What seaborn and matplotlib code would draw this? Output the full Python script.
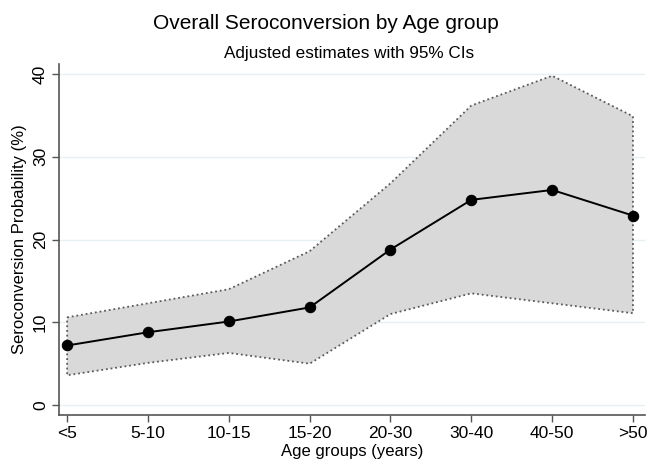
import matplotlib
matplotlib.use("Agg")
import matplotlib.pyplot as plt
import seaborn as sns
import numpy as np
import pandas as pd

# Data
age_groups = ["<5", "5-10", "10-15", "15-20", "20-30", "30-40", "40-50", ">50"]
estimate = [7.2, 8.8, 10.1, 11.8, 18.8, 24.8, 26.0, 22.9]
ci_upper = [10.6, 12.3, 14.0, 18.6, 26.8, 36.2, 39.8, 34.9]
ci_lower = [3.6, 5.1, 6.3, 5.0, 11.0, 13.5, 12.3, 11.1]

df = pd.DataFrame({"pos": np.arange(len(age_groups)), "est": estimate})

sns.set_theme(style="white")
plt.rcParams["font.family"] = ["Liberation Sans", "DejaVu Sans"]
plt.rcParams["text.color"] = "black"
plt.rcParams["axes.labelcolor"] = "black"

fig = plt.figure(figsize=(6.49, 4.61), dpi=100)
ax = fig.add_axes([0.091, 0.0998, 0.903, 0.761])

# grid lines
for v in [0, 10, 20, 30, 40]:
    ax.axhline(v, color="#e6eff1", lw=1.0, zorder=0)

# CI band with dotted outline
xs = df["pos"].to_numpy()
ax.fill(np.r_[xs, xs[::-1]], np.r_[ci_upper, ci_lower[::-1]],
        facecolor="#d9d9d9", edgecolor="#5a5a5a", linestyle=(0, (1, 1.6)),
        linewidth=1.3, zorder=1)

sns.lineplot(data=df, x="pos", y="est", ax=ax, color="black", lw=1.4,
             marker="o", markersize=7.5, markeredgecolor="black", zorder=3)

ax.set_xlim(-0.1, 7.15)
ax.set_ylim(-1.2, 41.2)
ax.set_xticks(xs)
ax.set_xticklabels(age_groups)
ax.set_yticks([0, 10, 20, 30, 40])
ax.set_yticklabels(["0", "10", "20", "30", "40"], rotation=90, va="center")
ax.tick_params(axis="both", direction="out", length=5, width=1, color="#555555",
               labelsize=12.5, pad=3, bottom=True, left=True, labelcolor="black")

for s in ["top", "right"]:
    ax.spines[s].set_visible(False)
for s in ["left", "bottom"]:
    ax.spines[s].set_color("#555555")
    ax.spines[s].set_linewidth(1.2)

ax.set_xlabel("Age groups (years)", fontsize=12, labelpad=2)
ax.set_ylabel("Seroconversion Probability (%)", fontsize=12, labelpad=4)

fig.text(0.502, 0.948, "Overall Seroconversion by Age group", ha="center",
         va="center", fontsize=15)
fig.text(0.538, 0.884, "Adjusted estimates with 95% CIs", ha="center",
         va="center", fontsize=12.3)

fig.savefig("out.png", dpi=100)
